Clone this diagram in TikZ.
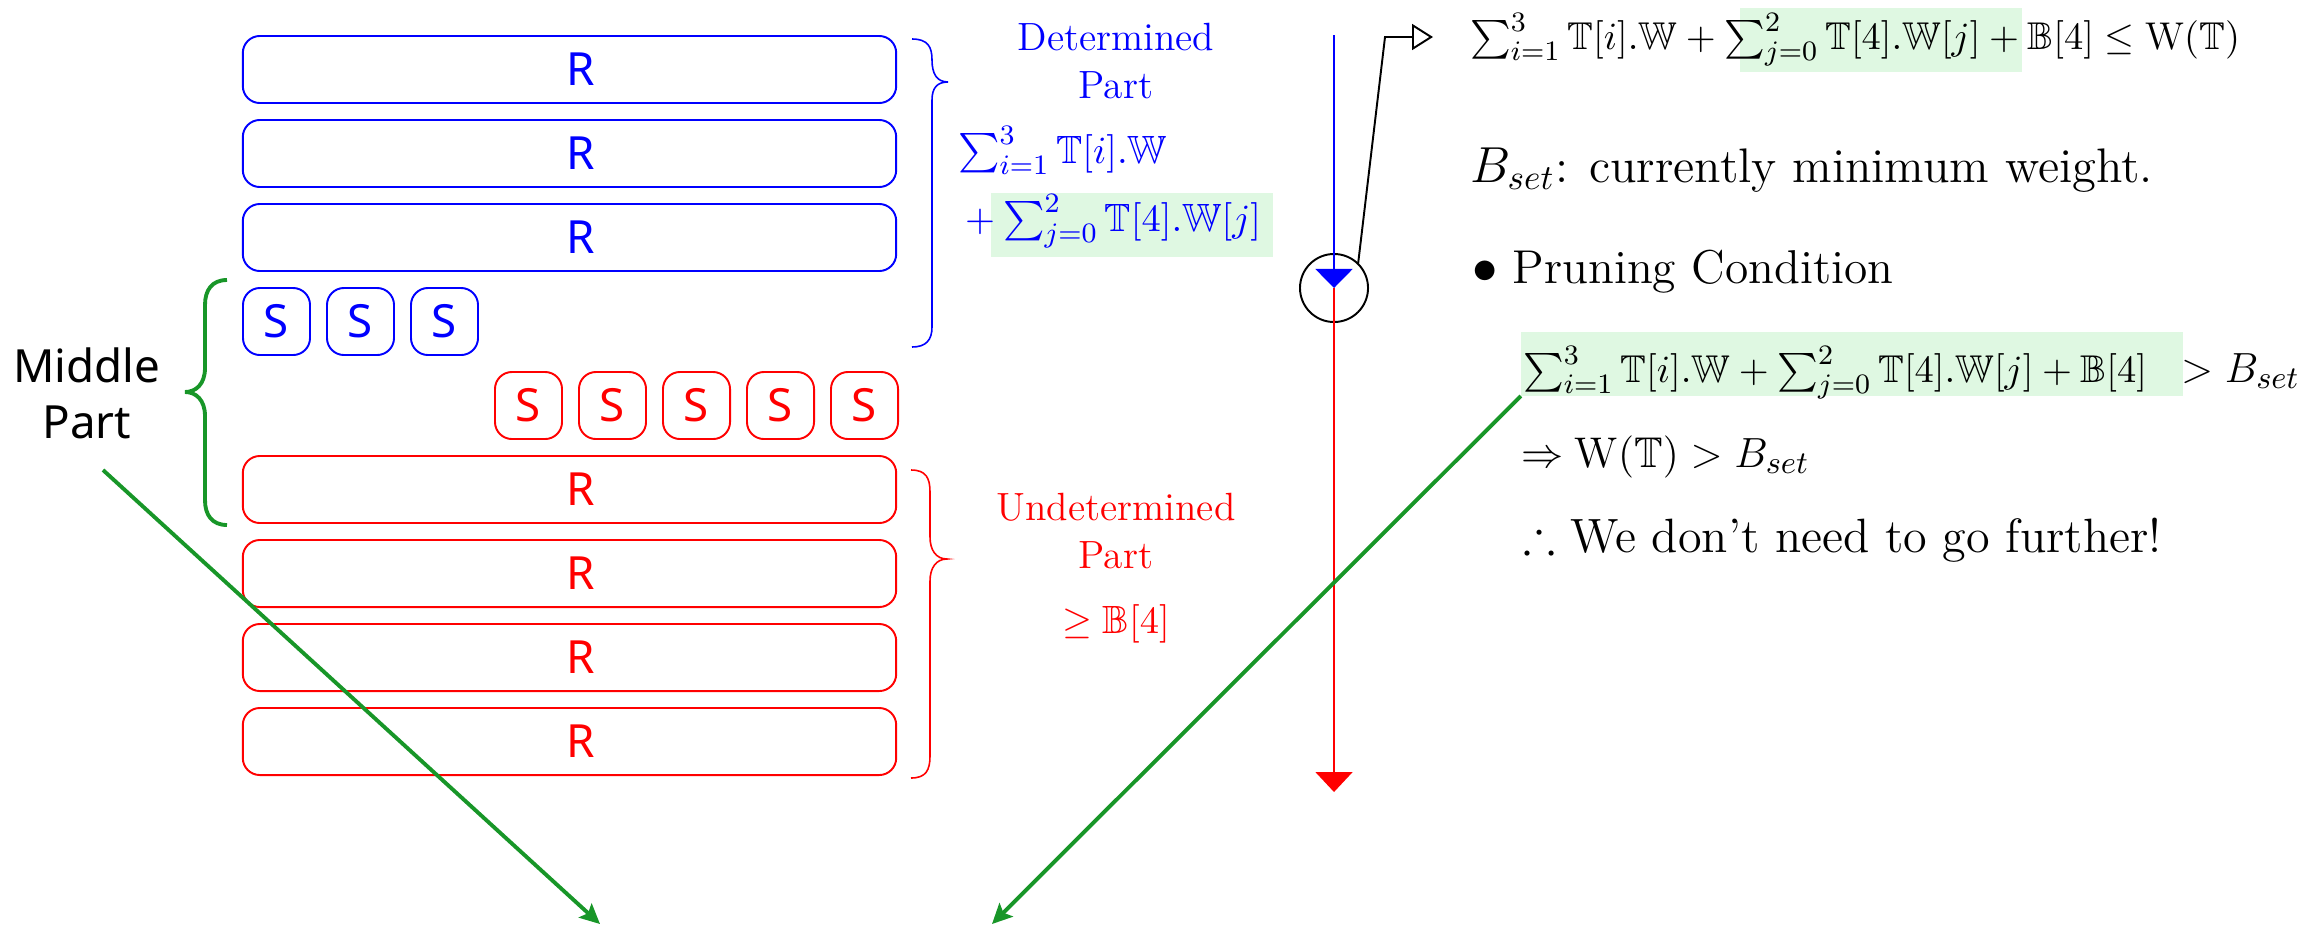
\documentclass[tikz,border=0pt]{standalone}
\usepackage{amssymb}
\usepackage{fontspec}
\newfontfamily\mysans{Noto Sans}
\usetikzlibrary{arrows.meta}
\definecolor{hl}{RGB}{223,248,226}
\definecolor{gr}{RGB}{24,150,40}
\newcommand\myfA{\fontsize{11.2}{13.4}\selectfont}
\newcommand\myfM{\fontsize{11}{13.2}\selectfont}
\newcommand\myfE{\fontsize{12.2}{14.6}\selectfont}
\newcommand\myfB{\fontsize{13.8}{16.5}\selectfont}
\newcommand\myfC{\fontsize{13.7}{16.4}\selectfont}
\newcommand\myfD{\fontsize{13.5}{16.2}\selectfont}
\newcommand\myfF{\fontsize{12.8}{15.4}\selectfont}
\newcommand\myfS{\mysans\fontsize{13}{15.6}\selectfont}
\begin{document}
\begin{tikzpicture}[x=0.01cm,y=-0.01cm,
  every node/.style={inner sep=0pt,outer sep=0pt},
  rbox/.style={draw,rounded corners=0.17cm,line width=0.55pt,minimum width=6.53cm,minimum height=0.67cm,font=\myfS},
  sbox/.style={rbox,minimum width=0.67cm},
  hlbox/.style={fill=hl,minimum height=0.64cm},
  lbl/.style={font=\myfA,anchor=base},
  frm/.style={font=\myfA,anchor=base west},
  txt/.style={font=\myfB,anchor=base west},
  brc/.style={line width=0.45pt},
  garrow/.style={gr,line width=1.1pt,-{Stealth[length=0.2cm,width=0.19cm,inset=0.04cm]}}
]
\path[use as bounding box,fill=white] (0,0) rectangle (2307,927);

% highlights
\node[hlbox,minimum width=2.82cm] (h1) at (1881,40) {};
\node[hlbox,minimum width=2.82cm] (h2) at (1132,225) {};
\node[hlbox,minimum width=6.62cm] (h3) at (1852,364) {};

% determined rows
\node[rbox,blue] (b1) at (569.5,69.5) {\hspace{0.22cm}R};
\node[rbox,blue] (b2) at (569.5,153.5) {\hspace{0.22cm}R};
\node[rbox,blue] (b3) at (569.5,237.5) {\hspace{0.22cm}R};
\node[sbox,blue] (bs1) at (276.5,321.5) {S};
\node[sbox,blue] (bs2) at (360.5,321.5) {S};
\node[sbox,blue] (bs3) at (444.5,321.5) {S};
% undetermined rows
\node[sbox,red] (rs1) at (528.5,405.5) {S};
\node[sbox,red] (rs2) at (612.5,405.5) {S};
\node[sbox,red] (rs3) at (696.5,405.5) {S};
\node[sbox,red] (rs4) at (780.5,405.5) {S};
\node[sbox,red] (rs5) at (864.5,405.5) {S};
\node[rbox,red] (r1) at (569.5,489.5) {\hspace{0.22cm}R};
\node[rbox,red] (r2) at (569.5,573.5) {\hspace{0.22cm}R};
\node[rbox,red] (r3) at (569.5,657.5) {\hspace{0.22cm}R};
\node[rbox,red] (r4) at (569.5,741.5) {\hspace{0.22cm}R};

% braces
\draw[brc,blue] (912,39) .. controls (928,39) and (932,47) .. (932,60)
  .. controls (932,74) and (937,82) .. (948,82)
  .. controls (937,82) and (932,88) .. (932,100) -- (932,327)
  .. controls (932,340) and (926,347) .. (912,347);
\draw[brc,red] (911,470) .. controls (926,470) and (930,478) .. (930,492) -- (930,537)
  .. controls (930,550) and (936,559) .. (947,559)
  .. controls (936,559) and (930,568) .. (930,581) -- (930,756)
  .. controls (930,770) and (926,778) .. (911,778);
\draw[gr,line width=1.1pt] (227,280) .. controls (212,280) and (205,290) .. (205,305) -- (205,368)
  .. controls (205,384) and (196,392) .. (185,392)
  .. controls (196,392) and (205,400) .. (205,416) -- (205,500)
  .. controls (205,515) and (212,525) .. (227,525);

% Middle Part
\node[font=\myfS,anchor=base] (mid1) at (87,382) {Middle};
\node[font=\myfS,anchor=base] (mid2) at (87,438) {Part};

% determined labels
\node[lbl,blue] (d1) at (1116,50) {Determined};
\node[lbl,blue] (d2) at (1116,98) {Part};
\node[frm,blue] (d3) at (958,163) {$\sum_{i=1}^{3}\mathbb{T}[i].\mathbb{W}$};
\node[frm,blue] (d4) at (965,231) {$+$};
\node[frm,blue] (d5) at (1003,231) {$\sum_{j=0}^{2}\mathbb{T}[4].\mathbb{W}[j]$};

% undetermined labels
\node[lbl,red] (u1) at (1116,520) {Undetermined};
\node[lbl,red] (u2) at (1116,568) {Part};
\node[lbl,red] (u3) at (1116,633) {$\geq\mathbb{B}[4]$};

% vertical timeline
\node[draw,circle,minimum size=0.68cm,line width=0.55pt] (circ) at (1334,288) {};
\coordinate (vtop) at (1334,35);
\coordinate (vbot) at (1334,792);
\draw[red,line width=0.5pt,-{Triangle[length=0.2cm,width=0.37cm]}] (circ.center) -- (vbot);
\draw[blue,line width=0.5pt,-{Triangle[length=0.19cm,width=0.37cm]}] (vtop) -- (circ.center);

% right texts
\node[frm,font=\myfM] (f1) at (1470,49) {$\sum_{i=1}^{3}\mathbb{T}[i].\mathbb{W}+\sum_{j=0}^{2}\mathbb{T}[4].\mathbb{W}[j]+\mathbb{B}[4]\leq\mathrm{W}(\mathbb{T})$};
\coordinate (bend) at (1385,37);
\coordinate (tgt) at (1433,37);
\draw[line width=0.55pt,-{Triangle[open,length=0.21cm,width=0.26cm]}] (circ.45) -- (bend) -- (tgt);

\node[txt] (t1) at (1470,182) {$B_{set}$: currently minimum weight.};
\node[txt,font=\myfD] (t2) at (1472,283) {$\bullet$ Pruning Condition};
\node[frm,font=\myfM] (f2) at (1523,382) {$\sum_{i=1}^{3}\mathbb{T}[i].\mathbb{W}+\sum_{j=0}^{2}\mathbb{T}[4].\mathbb{W}[j]+\mathbb{B}[4]$};
\node[font=\myfF,anchor=base east] (f2b) at (2300,382) {$>B_{set}$};
\node[frm,font=\myfE] (f3) at (1521,467) {$\Rightarrow\mathrm{W}(\mathbb{T})>B_{set}$};
\node[txt,font=\myfC] (t3) at (1523,552) {$\therefore$ We don’t need to go further!};

% green arrows
\coordinate (g1s) at (103,470);
\coordinate (g1e) at (600,924);
\coordinate (g2e) at (992,924);
\draw[garrow] (g1s) -- (g1e);
\draw[garrow] (h3.south west) -- (g2e);
\end{tikzpicture}
\end{document}
